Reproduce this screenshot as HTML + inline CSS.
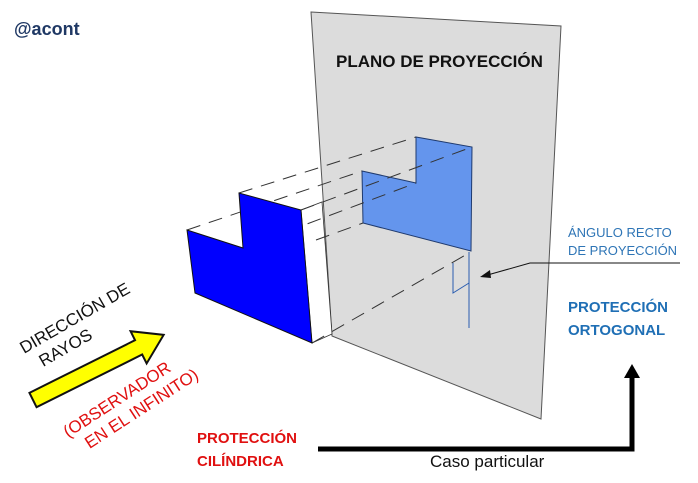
<!DOCTYPE html>
<html><head><meta charset="utf-8"><style>
html,body{margin:0;padding:0;background:#fff;}
svg{display:block;font-family:"Liberation Sans","DejaVu Sans",sans-serif;}
</style></head><body>
<svg width="698" height="483" viewBox="0 0 698 483" xmlns="http://www.w3.org/2000/svg">
<text x="14" y="35" font-size="18" font-weight="bold" fill="#1f3864">@acont</text>
<!-- plane -->
<polygon points="311,12 561,26 541,419 332,336" fill="#dcdcdc" stroke="#555" stroke-width="1"/>
<text x="336" y="67" font-size="17" font-weight="bold" fill="#111">PLANO DE PROYECCIÓN</text>
<!-- projection -->
<polygon points="362,171 416,183 416,137 472,147 471,251 363,223" fill="#6495ed" stroke="#1f3a6e" stroke-width="1"/>
<!-- white side face of object -->
<polygon points="301,210 322,202 332,334 312,343" fill="#fff" stroke="#333" stroke-width="0.8"/>
<!-- dashed projectors -->
<g stroke="#333" stroke-width="1" stroke-dasharray="14 9" fill="none">
<line x1="187" y1="230" x2="362" y2="171"/>
<line x1="239" y1="193" x2="416" y2="137"/>
<line x1="301" y1="210" x2="472" y2="147"/>
<line x1="243" y1="248" x2="416" y2="183"/>
<line x1="316" y1="240" x2="363" y2="223"/>
<line x1="312" y1="343" x2="469" y2="253"/>
</g>
<!-- object front face -->
<polygon points="187,230 243,248 239,193 301,210 312,343 195,293" fill="#0000ff" stroke="#111" stroke-width="1"/>
<!-- right angle -->
<g stroke="#2a5db0" stroke-width="1" fill="none">
<line x1="469" y1="252" x2="469" y2="328"/>
<polyline points="453,263 453,293 469,283"/>
</g>
<!-- pointer arrow -->
<polyline points="680,263 530,263 484,276" stroke="#111" stroke-width="1" fill="none"/>
<polygon points="480,277 490,270 491,278" fill="#111"/>
<text x="568" y="237" font-size="13" fill="#2e75b6">ÁNGULO RECTO</text>
<text x="568" y="255" font-size="13" fill="#2e75b6">DE PROYECCIÓN</text>
<text x="568" y="312" font-size="15" font-weight="bold" fill="#1f6fb5">PROTECCIÓN</text>
<text x="568" y="335" font-size="15" font-weight="bold" fill="#1f6fb5">ORTOGONAL</text>
<!-- L arrow -->
<polyline points="318,449 632,449 632,376" stroke="#000" stroke-width="5" fill="none"/>
<polygon points="624,378 640,378 632,364" fill="#000"/>
<text x="430" y="467" font-size="17" fill="#111">Caso particular</text>
<text x="197" y="443" font-size="15" font-weight="bold" fill="#e01010">PROTECCIÓN</text>
<text x="197" y="466" font-size="15" font-weight="bold" fill="#e01010">CILÍNDRICA</text>
<!-- yellow arrow -->
<g transform="translate(33,400) rotate(-26.5)">
<polygon points="0,-8 118,-8 118,-18 146,0 118,18 118,8 0,8" fill="#ffff00" stroke="#111" stroke-width="2"/>
</g>
<g transform="translate(24,354) rotate(-30)" font-size="17" fill="#111">
<text x="0" y="0">DIRECCIÓN DE</text>
<text x="10" y="21">RAYOS</text>
</g>
<g transform="translate(68,438) rotate(-33)" font-size="17" fill="#e01010">
<text x="0" y="0">(OBSERVADOR</text>
<text x="12" y="21">EN EL INFINITO)</text>
</g>
</svg>
</body></html>
